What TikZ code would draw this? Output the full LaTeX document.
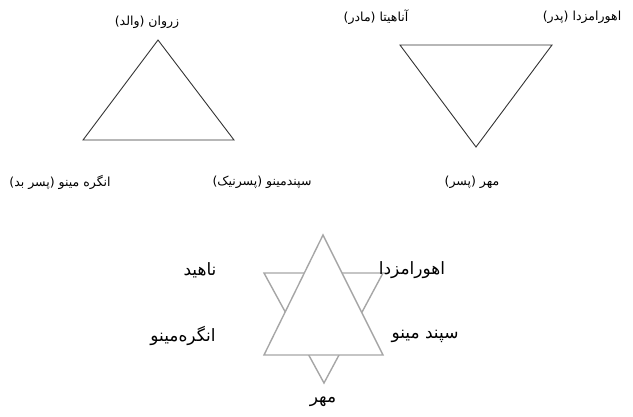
\documentclass[tikz,border=0pt]{standalone}
\usepackage{fontspec}
\newfontfamily\arabicfont[Script=Arabic]{DejaVu Sans}
\TeXXeTstate=1
\usetikzlibrary{positioning}

\begin{document}
\begin{tikzpicture}[x=1pt, y=-1pt,
    small/.style={font=\arabicfont\fontsize{12.5}{14}\selectfont, inner sep=0pt},
    big/.style={font=\arabicfont\fontsize{17}{19}\selectfont, inner sep=0pt},
    side/.style={draw=black!80, line width=0.9pt},
    star/.style={draw=black!35, line width=1.4pt, line join=miter}]
    \useasboundingbox (0,0) rectangle (633,416);

    % triangle of Zurvan
    \coordinate (zurvan) at (158,40);
    \coordinate (angra) at (83,140);
    \coordinate (spenta) at (234,140);
    \draw[side] (zurvan) -- (angra) -- (spenta) -- cycle;
    \node[small] (zurvanl) at (147,22) {\beginR زروان (والد)\endR};
    \node[small] (angral) at (60,182) {\beginR انگره مینو (پسر بد)\endR};
    \node[small] (spental) at (262,182) {\beginR سپندمینو (پسرنیک)\endR};

    % triangle of Ahura Mazda
    \coordinate (anahita) at (400,45);
    \coordinate (ahura) at (552,45);
    \coordinate (mehr) at (476,147);
    \draw[side] (anahita) -- (ahura) -- (mehr) -- cycle;
    \node[small] (anahital) at (376,17) {\beginR آناهیتا (مادر)\endR};
    \node[small] (ahural) at (582,17) {\beginR اهورامزدا (پدر)\endR};
    \node[small] (mehrl) at (472,182) {\beginR مهر (پسر)\endR};

    % the star
    \coordinate (dl) at (264,273);
    \coordinate (dr) at (383,273);
    \coordinate (db) at (324,383);
    \coordinate (ut) at (323,235);
    \coordinate (ul) at (264,355);
    \coordinate (ur) at (383,355);
    \draw[star] (dl) -- (dr) -- (db) -- cycle;
    \filldraw[star, fill=white] (ut) -- (ul) -- (ur) -- cycle;
    \node[big] (nahid) at (200,270) {\beginR ناهید\endR};
    \node[big] (ahuram) at (412,270) {\beginR اهورامزدا\endR};
    \node[big] (angram) at (183,336) {\beginR انگره‌مینو\endR};
    \node[big] (spentam) at (425,336) {\beginR سپند مینو\endR};
    \node[big] (mehrm) at (323,402) {\beginR مهر\endR};
\end{tikzpicture}
\end{document}
